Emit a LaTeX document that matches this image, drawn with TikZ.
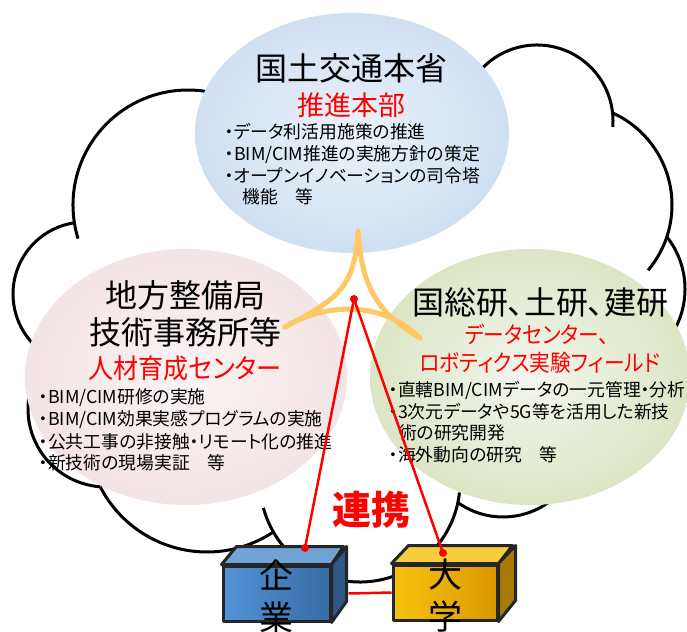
\documentclass[tikz,border=0pt]{standalone}
\usepackage{fontspec}
\usepackage{graphicx}
\setmainfont{Noto Sans CJK JP}[RawFeature=+palt]
\usetikzlibrary{shapes.geometric}
\definecolor{blueIn}{RGB}{236,242,250}
\definecolor{blueOut}{RGB}{178,205,234}
\definecolor{pinkIn}{RGB}{250,244,244}
\definecolor{pinkOut}{RGB}{236,212,213}
\definecolor{greenIn}{RGB}{243,246,238}
\definecolor{greenOut}{RGB}{196,214,155}
\definecolor{starcol}{RGB}{255,200,100}
\definecolor{boxline}{RGB}{38,38,38}
\definecolor{kfl}{RGB}{82,147,215}
\definecolor{kfr}{RGB}{55,108,165}
\definecolor{ktop}{RGB}{112,163,214}
\definecolor{kside}{RGB}{45,88,135}
\definecolor{dfl}{RGB}{248,195,15}
\definecolor{dfr}{RGB}{218,152,0}
\definecolor{dtop}{RGB}{248,205,60}
\definecolor{dside}{RGB}{168,122,0}
\pgfdeclareradialshading{blueball}{\pgfpoint{0bp}{0bp}}{color(0bp)=(blueIn); color(50bp)=(blueOut)}
\pgfdeclareradialshading{pinkball}{\pgfpoint{0bp}{0bp}}{color(0bp)=(pinkIn); color(50bp)=(pinkOut)}
\pgfdeclareradialshading{greenball}{\pgfpoint{0bp}{0bp}}{color(0bp)=(greenIn); color(50bp)=(greenOut)}
\tikzset{
  cloudline/.style={line width=3pt, black, line cap=butt},
  blob/.style={ellipse, inner sep=0pt, draw=none},
  lbl/.style={inner sep=0pt},
  head/.style={lbl, text height=28pt, text depth=3.7pt, font=\fontsize{32}{36}\selectfont},
  subt/.style={lbl, text=red, text height=23.5pt, text depth=2.9pt, font=\fontsize{27}{30}\selectfont},
  subr/.style={lbl, text=red, text height=20pt, text depth=2.5pt, font=\fontsize{23}{26}\selectfont},
  item/.style={lbl, anchor=west, text height=15.1pt, text depth=1.5pt, font=\fontsize{17.8}{21}\selectfont},
  starline/.style={draw=starcol, line width=5pt, line join=round, line cap=round},
  redline/.style={draw=red, line width=2.5pt},
  reddot/.style={circle, fill=red, minimum size=8pt, inner sep=0pt},
  boxedge/.style={draw=boxline, line width=3pt, line join=round},
  boxtxt/.style={inner sep=0pt, anchor=north, align=center, font=\fontsize{34}{42}\selectfont},
}
\begin{document}
\begin{tikzpicture}[x=1pt,y=-1pt]
\clip (0,0) rectangle (687,631);
\fill[white] (0,0) rectangle (687,631);
% cloud outline (bumps)
\draw[cloudline] (188,205) ++(163:115) arc[start angle=163, end angle=309, radius=115];
\draw[cloudline] (85,294) ++(261.2:72) arc[start angle=261.2, end angle=110, radius=72];
\draw[cloudline] (106,409) ++(200:78) arc[start angle=200, end angle=94.2, radius=78];
\draw[cloudline] (207,432) ++(152.8:120) arc[start angle=152.8, end angle=56.6, radius=120];
\draw[cloudline] (360,482) ++(165:100) arc[start angle=165, end angle=6, radius=100];
\draw[cloudline] (503,439) ++(125.5:78) arc[start angle=125.5, end angle=30, radius=78];
\draw[cloudline] (601,289) ++(321.8:84) arc[start angle=321.8, end angle=390, radius=84];
\draw[cloudline] (571,205) ++(293.8:101) arc[start angle=293.8, end angle=400.3, radius=101];
\draw[cloudline] (537,121) ++(200:76) arc[start angle=200, end angle=364.5, radius=76];
% ellipses
\node[blob, shading=blueball, minimum width=314pt, minimum height=240pt] (moc) at (352,133) {};
\node[blob, shading=pinkball, minimum width=322pt, minimum height=256pt] (bureau) at (186,377) {};
\node[blob, shading=greenball, minimum width=320pt, minimum height=256pt] (inst) at (530,377) {};
% top texts
\node[head] (t1) at (351,68) {国土交通本省};
\node[subt] (t2) at (351,105) {推進本部};
\node[item] (t3) at (225,132) {・データ利活用施策の推進};
\node[item] (t4) at (225,154) {・BIM/CIM推進の実施方針の策定};
\node[item] (t5) at (225,176) {・オープンイノベーションの司令塔};
\node[item] (t6) at (242,197) {機能　等};
% left texts
\node[head] (l1) at (185,295) {地方整備局};
\node[head] (l2) at (185,332) {技術事務所等};
\node[subt] (l3) at (185,368) {\scalebox{0.93}[1]{人材育成センター}};
\node[item] (l4) at (39,397) {・BIM/CIM研修の実施};
\node[item] (l5) at (39,419) {・BIM/CIM効果実感プログラムの実施};
\node[item] (l6) at (39,442) {・公共工事の非接触・リモート化の推進};
\node[item] (l7) at (39,463) {・新技術の現場実証　等};
% right texts
\node[head] (r1) at (540,302) {国総研、土研、建研};
\node[subr] (r2) at (537,335) {\scalebox{0.9}[1]{データセンター、}};
\node[subr] (r3) at (540,363) {\scalebox{0.9}[1]{ロボティクス実験フィールド}};
\node[item] (r4) at (389,390) {・直轄BIM/CIMデータの一元管理・分析};
\node[item] (r5) at (389,412) {・3次元データや5G等を活用した新技};
\node[item] (r6) at (399,433) {術の研究開発};
\node[item] (r7) at (389,455) {・海外動向の研究　等};
% star
\draw[starline] (358,231) .. controls (355,290) and (335,300) .. (285,327)
  .. controls (325,303) and (382,300) .. (420,338)
  .. controls (383,315) and (362,295) .. (358,231) -- cycle;
% collaboration label
\node[lbl, text=red, font=\fontsize{39}{44}\selectfont\bfseries] (renkei) at (371,510) {連携};
% boxes
\node[boxedge, minimum width=107pt, minimum height=55pt, inner sep=0pt, left color=kfl, right color=kfr] (kigyo) at (276.5,593.5) {};
\filldraw[boxedge, fill=ktop] (kigyo.north west) -- ++(15,-18) -- ++(107,0) -- (kigyo.north east) -- cycle;
\filldraw[boxedge, fill=kside] (kigyo.north east) -- ++(15,-18) -- ++(0,55) -- (kigyo.south east) -- cycle;
\node[boxtxt] (kigyotxt) at (276.5,560) {企\\業};
\node[boxedge, minimum width=104pt, minimum height=55pt, inner sep=0pt, left color=dfl, right color=dfr] (daigaku) at (445,592.5) {};
\filldraw[boxedge, fill=dtop] (daigaku.north west) -- ++(17,-18) -- ++(104,0) -- (daigaku.north east) -- cycle;
\filldraw[boxedge, fill=dside] (daigaku.north east) -- ++(17,-18) -- ++(0,55) -- (daigaku.south east) -- cycle;
\node[boxtxt] (daigakutxt) at (445,559) {大\\学};
% red links
\node[reddot] (hub) at (354,299) {};
\node[reddot] (kdot) at (305,548) {};
\node[reddot] (ddot) at (443,553) {};
\draw[redline] (hub.center) -- (kdot.center);
\draw[redline] (hub.center) -- (ddot.center);
\coordinate (kright) at ([xshift=17pt]kigyo.east);
\draw[redline] (kright) -- (daigaku.west);
\end{tikzpicture}
\end{document}
